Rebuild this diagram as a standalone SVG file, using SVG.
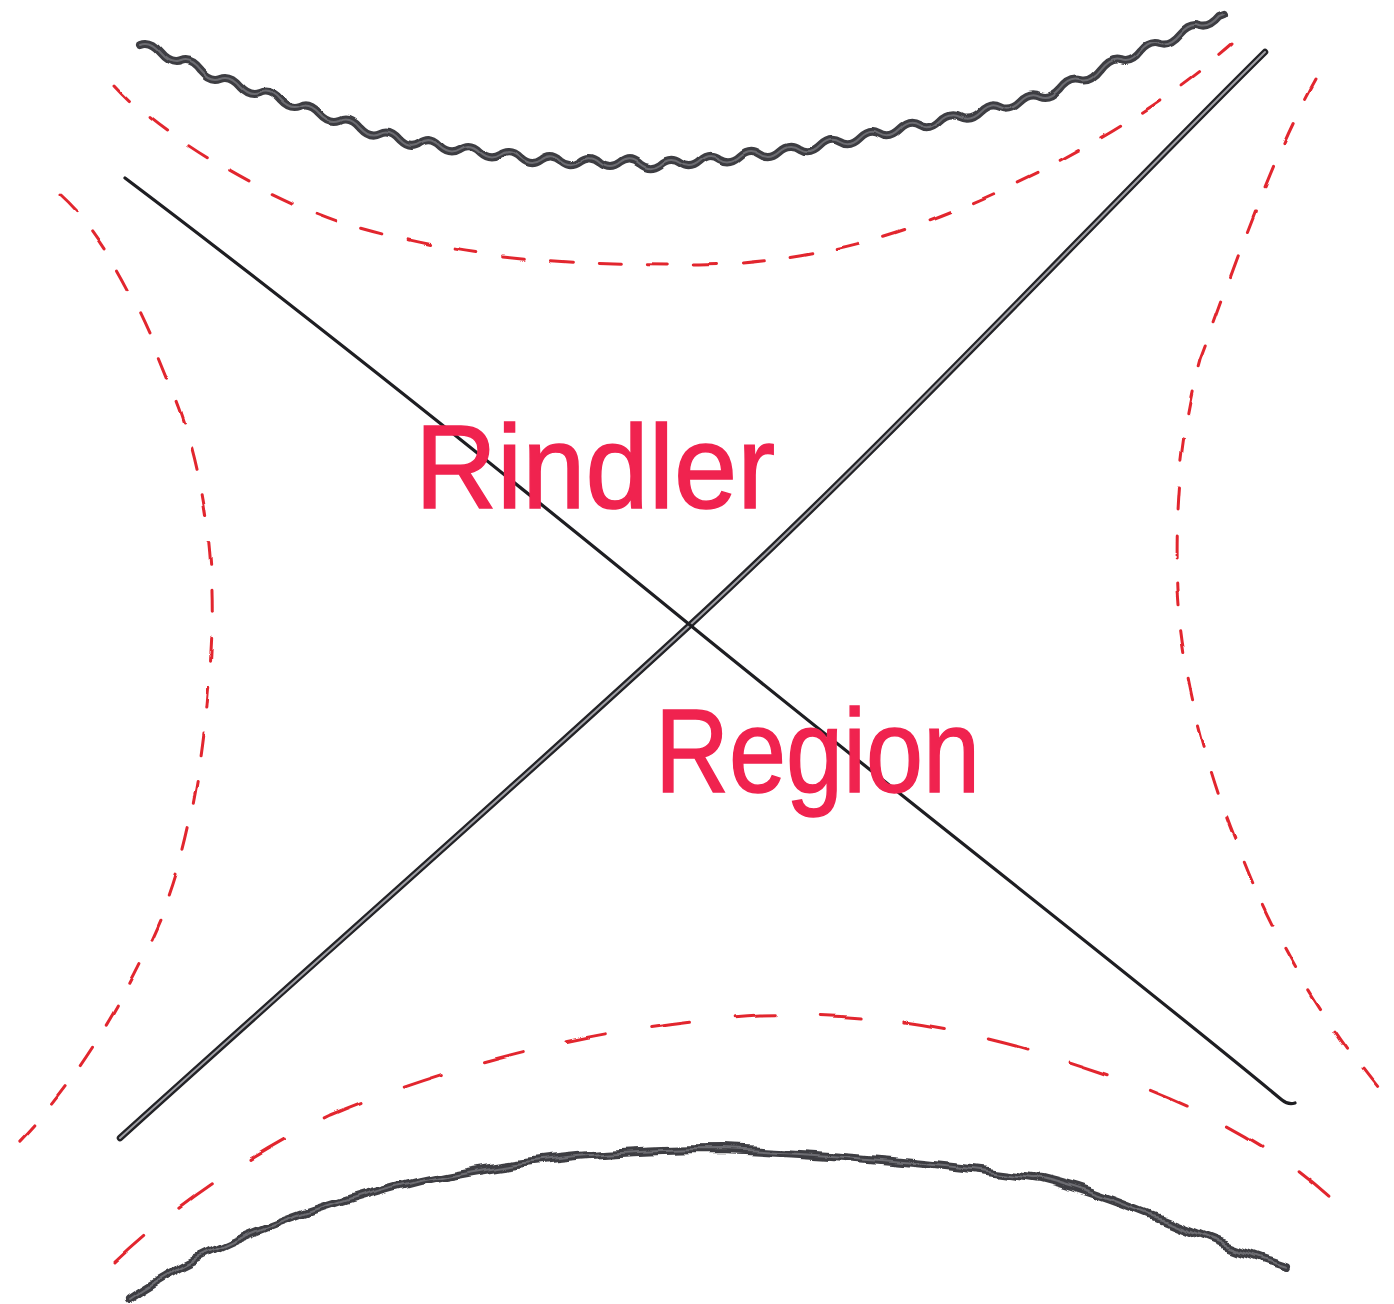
<svg xmlns="http://www.w3.org/2000/svg" width="1394" height="1304" viewBox="0 0 1394 1304">
<style>
.wav{fill:none;stroke:#3d3d42;stroke-width:8;stroke-linecap:round;stroke-linejoin:round}
.wavh{fill:none;stroke:#808086;stroke-width:2;stroke-linecap:round;opacity:.7}
.dash{fill:none;stroke:#e2262f;stroke-width:3;stroke-linecap:round;stroke-dasharray:22 26}
.lbl{font-family:"Liberation Sans",Arial,sans-serif;fill:#f0234f;font-size:118px;stroke:#f0234f;stroke-width:1.5}
</style>
<defs>
<path id="topw" d="M140,45 Q150,41 160,53 Q170,65 180,61 Q190,57 200,70 Q210,82 220,78 Q230,74 240,86 Q250,97 260,93 Q270,88 280,100 Q290,111 300,107 Q310,102 320,113 Q330,124 340,120 Q350,115 360,127 Q370,138 380,133 Q390,128 400,140 Q410,150 420,143 Q430,136 440,146 Q450,155 460,149 Q470,142 480,152 Q490,161 500,155 Q510,148 520,158 Q530,167 540,160 Q550,152 560,161 Q570,169 580,162 Q590,154 600,163 Q610,171 620,163 Q630,155 640,164 Q650,172 660,165 Q670,156 680,163 Q690,170 700,161 Q710,152 720,159 Q730,165 740,156 Q750,147 760,154 Q770,161 780,152 Q790,143 800,150 Q810,156 820,146 Q830,136 840,142 Q850,148 860,138 Q870,128 880,134 Q890,140 900,130 Q910,120 920,126 Q930,132 940,122 Q950,112 960,117 Q970,122 980,112 Q990,102 1000,107 Q1010,112 1020,102 Q1030,92 1040,97 Q1050,101 1060,90 Q1070,77 1080,80 Q1090,83 1100,70 Q1110,57 1120,60 Q1130,64 1140,51 Q1150,39 1160,43 Q1170,46 1180,34 Q1190,22 1200,26 Q1210,29 1220,17 L1225,15"/>
<path id="botw" d="M130,1298 C200,1250 300,1210 420,1180 C520,1158 620,1150 720,1150 C850,1155 950,1165 1040,1178 C1130,1200 1200,1240 1285,1265"/>
<filter id="wob" filterUnits="userSpaceOnUse" x="0" y="0" width="1394" height="1304">
<feTurbulence type="fractalNoise" baseFrequency="0.032" numOctaves="1" seed="4" result="n"/>
<feDisplacementMap in="SourceGraphic" in2="n" scale="18" xChannelSelector="R" yChannelSelector="G"/>
</filter>
<filter id="wob2" filterUnits="userSpaceOnUse" x="0" y="0" width="1394" height="1304">
<feTurbulence type="fractalNoise" baseFrequency="0.02" numOctaves="1" seed="9" result="n"/>
<feDisplacementMap in="SourceGraphic" in2="n" scale="6" xChannelSelector="R" yChannelSelector="G"/>
</filter>
</defs>
<rect width="1394" height="1304" fill="#ffffff"/>
<g id="singularity-top" filter="url(#wob2)">
<use href="#topw" class="wav"/>
<use href="#topw" class="wavh"/>
</g>
<g id="singularity-bottom" filter="url(#wob)">
<use href="#botw" class="wav"/>
<use href="#botw" class="wavh"/>
</g>
<g id="hyperbolas" filter="url(#wob2)">
<path class="dash" d="M115,85 C160,135 260,195 340,222 C450,255 550,266 700,265 C850,262 950,215 1040,172 C1120,130 1180,90 1232,45"/>
<path class="dash" d="M115,1262 C170,1210 240,1160 330,1115 C450,1065 600,1025 760,1015 C900,1012 1000,1038 1100,1072 C1200,1105 1280,1150 1335,1202" style="stroke-dasharray:40 45"/>
<path class="dash" d="M60,195 C110,240 150,330 180,410 C205,480 214,560 212,630 C208,740 190,850 160,920 C130,990 80,1080 15,1145"/>
<path class="dash" d="M1315,80 C1270,160 1230,280 1200,360 C1178,440 1174,520 1177,590 C1182,680 1210,780 1240,850 C1270,930 1320,1020 1392,1105"/>
</g>
<g id="horizons">
<path d="M120,1138 C300,975 500,800 690,625 S1100,215 1265,52" fill="none" stroke="#222226" stroke-width="6.5" stroke-linecap="round"/>
<path d="M120,1138 C300,975 500,800 690,625 S1100,215 1265,52" fill="none" stroke="#a0a0a6" stroke-width="2" stroke-linecap="round"/>
<path d="M125,178 C300,310 500,470 690,625 S1150,990 1282,1100 q6,5 13,3" fill="none" stroke="#1e1e22" stroke-width="3.2" stroke-linecap="round"/>
</g>
<g id="labels">
<text class="lbl" x="415" y="508" textLength="360" lengthAdjust="spacingAndGlyphs">Rindler</text>
<text class="lbl" x="655" y="792" textLength="325" lengthAdjust="spacingAndGlyphs">Region</text>
</g>
</svg>
